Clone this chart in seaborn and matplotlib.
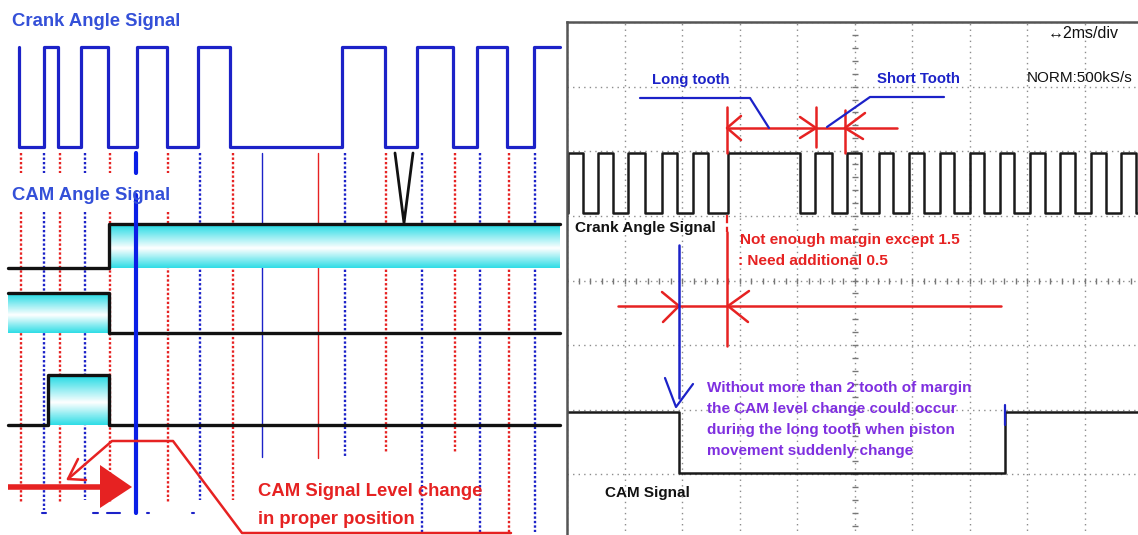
import numpy as np
import pandas as pd
import matplotlib
matplotlib.use("Agg")
import matplotlib.pyplot as plt
from matplotlib.colors import LinearSegmentedColormap
import seaborn as sns

sns.set_theme(style="white")
plt.rcParams["font.family"] = ["Liberation Sans Narrow", "Liberation Sans", "DejaVu Sans"]

# ---------------- left panel: timing diagram (image pixel units) ----------------
crank_start = 19
crank_end = 560
crank_edges = [19, 44, 58, 81, 108, 137, 167, 198, 230, 342, 385, 417, 453, 477, 507, 534]
crank_hi, crank_lo = 47, 147

cam_start = 8
cam_end = 560
cam_first = ["lo", "hi", "lo"]
cam_edges = [[109], [109], [48, 109]]
cam_hi_y = [224, 293, 375]
cam_lo_y = [268, 333, 425]

# reference marks below the crank signal
mark_x = [21, 44, 60, 85, 110, 136, 168, 200, 233, 262, 318, 345, 386, 422, 455, 480, 509, 535]
mark_col = ["r", "b", "r", "b", "r", "B", "r", "b", "r", "b", "r", "b", "r", "b", "r", "b", "r", "b"]
mark_style = [":", ":", ":", ":", ":", "-", ":", ":", ":", "-", "-", ":", ":", ":", ":", ":", ":", ":"]
mark_end = [503, 510, 502, 500, 503, 513, 502, 500, 500, 457, 458, 458, 453, 532, 452, 532, 532, 532]

# ---------------- right panel: scope capture (divisions) ----------------
scope_crank_edges = [0.02, 0.28, 0.54, 0.80, 1.06, 1.36, 1.65, 1.91, 2.19, 2.45, 2.80, 4.05,
                     4.31, 4.61, 4.87, 5.11, 5.43, 5.67, 5.95, 6.21, 6.49, 6.73, 7.01, 7.25,
                     7.53, 7.77, 8.05, 8.31, 8.57, 8.83, 9.11, 9.37, 9.63, 9.90]
scope_crank_hi, scope_crank_lo = 5.97, 5.04
scope_cam_edges = [1.95, 7.62]
scope_cam_hi, scope_cam_lo = 1.97, 1.02

RED = "#e62222"
BLUE = "#1c22c8"
TITLE_BLUE = "#3450d8"
PURPLE = "#7f2fe0"


def step_xy(start, end, edges, first, hi, lo):
    lev = {"hi": hi, "lo": lo}
    cur = first
    xs, ys = [start], [lev[cur]]
    for e in edges:
        nxt = "lo" if cur == "hi" else "hi"
        xs += [e, e]
        ys += [lev[cur], lev[nxt]]
        cur = nxt
    xs.append(end)
    ys.append(lev[cur])
    return xs, ys


def high_spans(start, end, edges, first):
    pts = [start] + list(edges) + [end]
    spans = []
    cur = first
    for a, b in zip(pts[:-1], pts[1:]):
        if cur == "hi":
            spans.append((a, b))
        cur = "lo" if cur == "hi" else "hi"
    return spans


fig = plt.figure(figsize=(11.38, 5.35), dpi=100)
fig.patch.set_facecolor("white")

# scope axes
sc = fig.add_axes([567 / 1138, -4 / 535, 575 / 1138, 517 / 535])
sc.set_xlim(0, 10)
sc.set_ylim(0, 8)
sc.set_xticks(range(11))
sc.set_yticks(range(9))
sc.tick_params(length=0, labelbottom=False, labelleft=False)
sc.grid(True, linestyle=(0, (1, 3)), color="#8c8c8c", linewidth=1.0)
for s in ["right", "bottom"]:
    sc.spines[s].set_visible(False)
for s in ["top", "left"]:
    sc.spines[s].set_color("#555555")
    sc.spines[s].set_linewidth(1.8)
sc.set_facecolor("white")
minor = np.arange(0, 10.01, 0.2)
sc.plot(minor, np.full(len(minor), 4.0), ls="none", marker="|", ms=5, color="#777777", mew=1)
minor_y = np.arange(0, 8.01, 0.2)
sc.plot(np.full(len(minor_y), 5.0), minor_y, ls="none", marker="_", ms=5, color="#777777", mew=1)

xs, ys = step_xy(0, 10, scope_crank_edges, "lo", scope_crank_hi, scope_crank_lo)
sns.lineplot(x=xs, y=ys, sort=False, estimator=None, ax=sc, color="#1a1a1a", linewidth=1.8)
xs, ys = step_xy(0, 10, scope_cam_edges, "hi", scope_cam_hi, scope_cam_lo)
sns.lineplot(x=xs, y=ys, sort=False, estimator=None, ax=sc, color="#1a1a1a", linewidth=1.8)

# overlay axes in image pixels
ax = fig.add_axes([0, 0, 1, 1])
ax.patch.set_alpha(0)
ax.axis("off")

# marker lines
cmap_col = {"r": RED, "b": BLUE, "B": "#0a1ee6"}
dots = (0, (1, 0.9))
for x, c, st, yb in zip(mark_x, mark_col, mark_style, mark_end):
    lw = 3.0 if c == "B" else (1.0 if st == "-" else 1.7)
    ls = dots if st == ":" else st
    z = 5 if c == "B" else 1
    if x <= 170:
        ax.plot([x, x], [153, 173], ls=ls, color=cmap_col[c], lw=lw, zorder=z)
        top2 = 195 if c == "B" else 212
        ax.plot([x, x], [top2, yb], ls=ls, color=cmap_col[c], lw=lw, zorder=z)
    else:
        ax.plot([x, x], [153, yb], ls=ls, color=cmap_col[c], lw=lw, zorder=z)

# cyan bands
band_cmap = LinearSegmentedColormap.from_list(
    "band", [(0, "#22dae4"), (0.55, "#ffffff"), (1, "#30dde6")])
grad = np.linspace(0, 1, 64).reshape(-1, 1)
for first, edges, hi, lo in zip(cam_first, cam_edges, cam_hi_y, cam_lo_y):
    for a, b in high_spans(cam_start, cam_end, edges, first):
        ax.imshow(grad, cmap=band_cmap, extent=[a, b, lo, hi], origin="upper",
                  aspect="auto", zorder=2, interpolation="bilinear")
    xs, ys = step_xy(cam_start, cam_end, edges, first, hi, lo)
    sns.lineplot(x=xs, y=ys, sort=False, estimator=None, ax=ax, color="#111111",
                 linewidth=2.4, zorder=3)

xs, ys = step_xy(crank_start, crank_end, crank_edges, "hi", crank_hi, crank_lo)
sns.lineplot(x=xs, y=ys, sort=False, estimator=None, ax=ax, color=BLUE, linewidth=2.3, zorder=3)

# black V between teeth
ax.plot([395, 404, 413], [153, 223, 153], color="#111111", lw=2.0, zorder=4)

ax.text(12, 22, "Crank Angle Signal", fontsize=13.3, fontweight="bold", color=TITLE_BLUE,
        va="center", ha="left", zorder=6)
ax.text(12, 196, "CAM Angle Signal", fontsize=13.3, fontweight="bold", color=TITLE_BLUE,
        va="center", ha="left", zorder=6)

# red callout
ax.plot([511, 242, 173, 112, 68], [533, 533, 441, 441, 479], color=RED, lw=1.8, zorder=6)
ax.plot([78, 68, 86], [459, 479, 480], color=RED, lw=1.8, zorder=6)
ax.plot([8, 102], [487, 487], color=RED, lw=4.0, zorder=6, solid_capstyle="butt")
ax.fill([100, 132, 100], [465, 487, 508], color=RED, zorder=6, lw=0)
ax.text(258, 492, "CAM Signal Level change", fontsize=13.3, fontweight="bold", color=RED,
        va="center", ha="left", zorder=6)
ax.text(258, 520, "in proper position", fontsize=13.3, fontweight="bold", color=RED,
        va="center", ha="left", zorder=6)
for a, b in [(42, 46), (93, 98), (107, 120), (147, 149), (192, 194)]:
    ax.plot([a, b], [513, 513], color=BLUE, lw=1.5, zorder=6)

# ---------------- scope annotations ----------------
ax.plot([727, 897], [128, 128], color=RED, lw=1.8, zorder=6)
for x, y0, y1 in zip([727, 816, 845], [107, 107, 110], [153, 147, 153]):
    ax.plot([x, x], [y0, y1], color=RED, lw=1.8, zorder=6)
chevrons = [((727, 128), (741, 116), (741, 140)),
            ((816, 128), (800, 117), (800, 138)),
            ((845, 128), (865, 113), (863, 139)),
            ((679, 306), (662, 292), (663, 322)),
            ((728, 306), (749, 291), (748, 322))]
for tip, a1, a2 in chevrons:
    ax.plot([a1[0], tip[0], a2[0]], [a1[1], tip[1], a2[1]], color=RED, lw=1.8, zorder=6)

ax.plot([640, 750, 769], [98, 98, 128], color=BLUE, lw=1.6, zorder=6)
ax.plot([944, 870, 827], [97, 97, 127], color=BLUE, lw=1.6, zorder=6)
ax.text(652, 80, "Long tooth", fontsize=10.7, fontweight="bold", color=BLUE, va="center", zorder=6)
ax.text(877, 79, "Short Tooth", fontsize=10.7, fontweight="bold", color=BLUE, va="center", zorder=6)
ax.text(1048, 33, "\u21942ms/div", fontsize=11.5, color="#111111", va="center",
        family=["Liberation Sans", "DejaVu Sans"], zorder=6)
ax.text(1027, 78, "NORM:500kS/s", fontsize=11, color="#111111", va="center",
        family=["Liberation Sans", "DejaVu Sans"], zorder=6)
ax.text(575, 228, "Crank Angle Signal", fontsize=11.1, fontweight="bold", color="#111111",
        va="center", zorder=6)
ax.text(740, 240, "Not enough margin except 1.5", fontsize=11.1, fontweight="bold", color=RED,
        va="center", zorder=6)
ax.text(738, 261, ": Need additional 0.5", fontsize=11.1, fontweight="bold", color=RED,
        va="center", zorder=6)

ax.plot([727, 727], [215, 232], color=RED, lw=1.6, ls="--", zorder=6)
ax.plot([727, 727], [232, 346], color=RED, lw=1.8, zorder=6)
ax.plot([618, 1001], [306, 306], color=RED, lw=1.8, zorder=6)
ax.plot([679, 679], [245, 398], color=BLUE, lw=1.8, zorder=6)
ax.plot([665, 676, 693], [378, 407, 384], color=BLUE, lw=1.6, zorder=6)
ax.plot([1005, 1005], [405, 425], color=BLUE, lw=1.6, zorder=6)

note = ["Without more than 2 tooth of margin",
        "the CAM level change could occur",
        "during the long tooth when piston",
        "movement suddenly change"]
for i, line in enumerate(note):
    ax.text(707, 388 + 21 * i, line, fontsize=11, fontweight="bold", color=PURPLE,
            va="center", zorder=6)
ax.text(605, 493, "CAM Signal", fontsize=11, fontweight="bold", color="#111111",
        va="center", zorder=6)

ax.set_xlim(0, 1138)
ax.set_ylim(535, 0)

fig.savefig("out.png", dpi=100)
